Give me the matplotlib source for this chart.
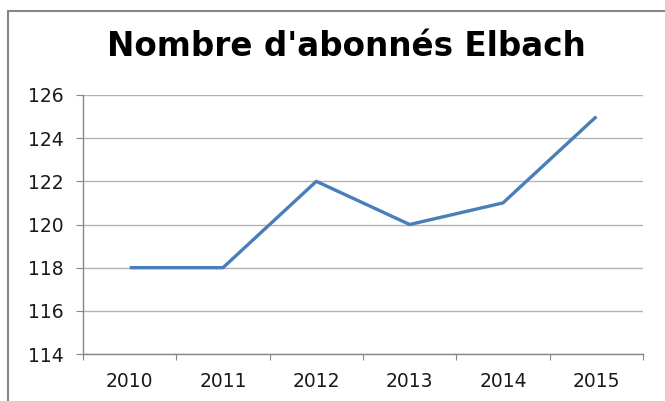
import matplotlib.pyplot as plt
from matplotlib.patches import Rectangle

# données
annees = ['2010', '2011', '2012', '2013', '2014', '2015']
abonnes = [118, 118, 122, 120, 121, 125]
yticks = [114, 116, 118, 120, 122, 124, 126]

W, H = 665, 401
fig = plt.figure(figsize=(W / 100, H / 100), dpi=100)

# cadre du graphique (coupé à droite et en bas)
fig.patches.append(Rectangle((8 / W, -0.1), 1.1, 1 - 11 / H + 0.1,
                             transform=fig.transFigure, fill=False,
                             edgecolor='#868686', linewidth=1.5))

ax = fig.add_axes([83 / W, 1 - 354 / H, (643 - 83) / W, (354 - 95) / H])
x = range(len(annees))
ax.plot(x, abonnes, color='#4A7EBB', linewidth=2.4, solid_capstyle='butt')

ax.set_xlim(-0.5, len(annees) - 0.5)
ax.set_ylim(114, 126)
ax.set_yticks(yticks)
ax.set_yticklabels([str(v) for v in yticks])
ax.set_xticks([i - 0.5 for i in range(len(annees) + 1)], minor=False)
ax.set_xticklabels([])
ax.set_xticks(list(x), minor=True)
ax.set_xticklabels(annees, minor=True)
ax.tick_params(axis='x', which='minor', length=0, pad=13)
ax.tick_params(axis='x', which='major', length=4.5, color='#868686', direction='out')
ax.tick_params(axis='y', length=5, color='#868686', pad=9)
for lab in ax.get_xticklabels(minor=True) + ax.get_yticklabels():
    lab.set_fontfamily('DejaVu Sans')
    lab.set_fontsize(13.5)
    lab.set_color('#1a1a1a')

ax.grid(axis='y', color='#B3B3B3', linewidth=1)
ax.set_axisbelow(True)
for s in ['top', 'right']:
    ax.spines[s].set_visible(False)
for s in ['left', 'bottom']:
    ax.spines[s].set_color('#868686')
    ax.spines[s].set_linewidth(1)

fig.text(0.521, 1 - 47 / H, "Nombre d'abonnés Elbach", ha='center', va='center',
         fontfamily='DejaVu Sans', fontweight='bold', fontsize=23.5, color='black')

fig.savefig('out.png', dpi=100)
